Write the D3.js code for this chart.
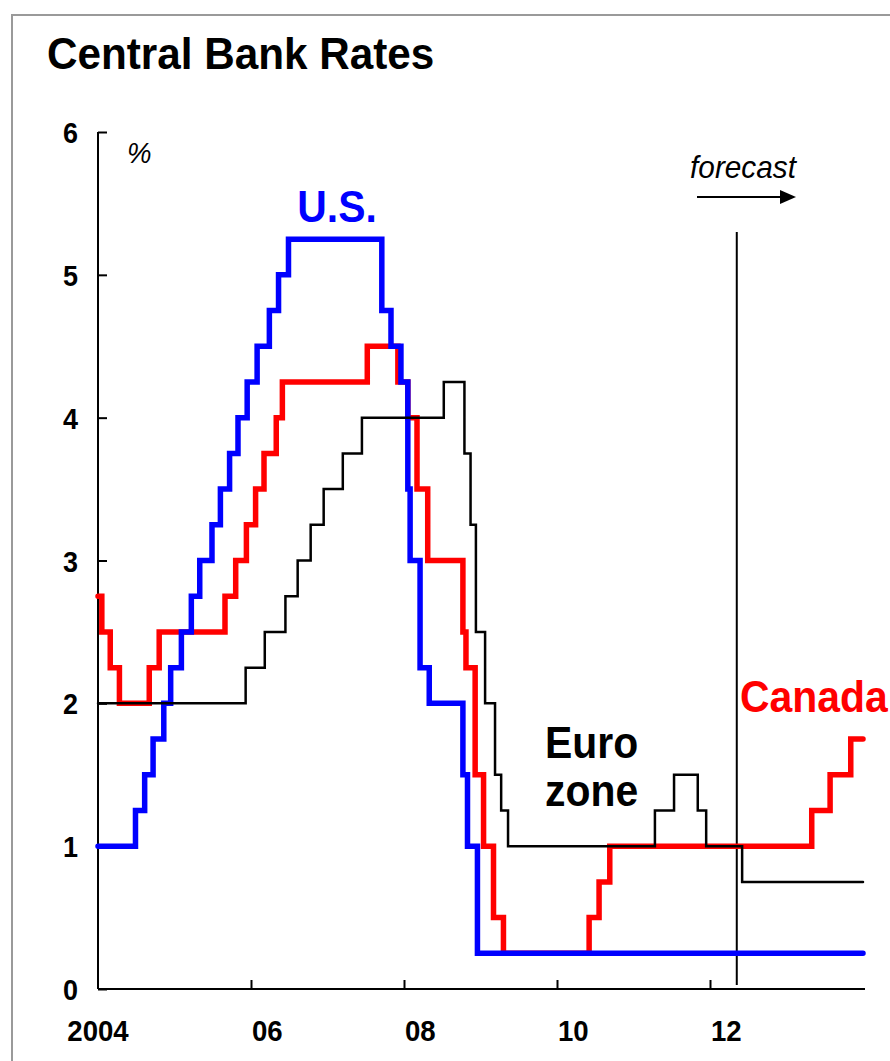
<!DOCTYPE html>
<html><head><meta charset="utf-8">
<script src="https://cdn.jsdelivr.net/npm/d3@7"></script>
<style>
body{margin:0;background:#fff}
svg{display:block}
text{font-family:"Liberation Sans",Arial,Helvetica,sans-serif}
</style>
</head><body>
<svg id="chart" width="890" height="1061"></svg>
<script>
// ---------- data ----------
const tickYears = [2004, 2006, 2008, 2010, 2012];
const tickLabels = ["2004", "06", "08", "10", "12"];
const yTicks = [0, 1, 2, 3, 4, 5, 6];

const usDates = [2004.00,2004.49,2004.61,2004.72,2004.86,2004.95,2005.09,2005.22,2005.33,2005.49,2005.60,2005.72,2005.83,2005.95,2006.08,2006.24,2006.36,2006.49,2007.71,2007.83,2007.96,2008.05,2008.08,2008.21,2008.33,2008.77,2008.83,2008.96,2014.00];
const usRates = [1.00,1.25,1.50,1.75,2.00,2.25,2.50,2.75,3.00,3.25,3.50,3.75,4.00,4.25,4.50,4.75,5.00,5.25,4.75,4.50,4.25,3.50,3.00,2.25,2.00,1.50,1.00,0.25,0.25];

const caDates = [2004.00,2004.05,2004.16,2004.28,2004.67,2004.80,2005.66,2005.80,2005.94,2006.06,2006.17,2006.33,2006.41,2007.52,2007.92,2008.05,2008.17,2008.31,2008.77,2008.81,2008.93,2009.04,2009.17,2009.30,2010.42,2010.55,2010.69,2013.33,2013.57,2013.84,2014.00];
const caRates = [2.75,2.50,2.25,2.00,2.25,2.50,2.75,3.00,3.25,3.50,3.75,4.00,4.25,4.50,4.25,4.00,3.50,3.00,2.50,2.25,1.50,1.00,0.50,0.25,0.50,0.75,1.00,1.25,1.50,1.75,1.75];

const euDates = [2004.00,2005.93,2006.18,2006.45,2006.61,2006.78,2006.95,2007.20,2007.45,2008.52,2008.79,2008.87,2008.94,2009.06,2009.19,2009.27,2009.36,2011.28,2011.53,2011.84,2011.95,2012.42,2014.00];
const euRates = [2.00,2.25,2.50,2.75,3.00,3.25,3.50,3.75,4.00,4.25,3.75,3.25,2.50,2.00,1.50,1.25,1.00,1.25,1.50,1.25,1.00,0.75,0.75];

const forecastStart = 2012.35;

// ---------- layout ----------
const svg = d3.select("#chart");
const x = d3.scaleLinear().domain([2004, 2014]).range([98, 863]);
const y = d3.scaleLinear().domain([0, 6]).range([989, 132]);

// text helper with slight horizontal condensing
function label(parent, tx, ty, str, opts) {
  const o = Object.assign({size: 26, weight: "normal", style: "normal", fill: "#000", anchor: "start", sx: 0.94}, opts);
  return parent.append("text")
    .attr("transform", `translate(${tx},${ty}) scale(${o.sx},1)`)
    .attr("font-size", o.size).attr("font-weight", o.weight).attr("font-style", o.style)
    .attr("fill", o.fill).attr("text-anchor", o.anchor).text(str);
}

// frame
svg.append("rect").attr("x", 12).attr("y", 15).attr("width", 900).attr("height", 1100)
  .attr("fill", "none").attr("stroke", "#9a9a9a").attr("stroke-width", 2);

// title
label(svg, 47, 69, "Central Bank Rates", {size: 44, weight: "bold", sx: 0.96});

// y axis
const yAxis = d3.axisRight(y).tickValues(yTicks).tickSize(9).tickFormat("");
const gy = svg.append("g").attr("transform", "translate(98,0)").call(yAxis);
gy.select(".domain").attr("stroke", "#000").attr("stroke-width", 2).attr("d", `M0,${y(6)}V${y(0)}`);
gy.selectAll(".tick line").attr("stroke", "#000").attr("stroke-width", 2);

const gyl = svg.append("g");
yTicks.forEach(d => label(gyl, 78, y(d) + 11, String(d), {size: 30, weight: "bold", anchor: "end", sx: 0.9}));

// x axis
const xAxis = d3.axisTop(x).tickValues(tickYears.slice(1)).tickSize(9).tickFormat("");
const gx = svg.append("g").attr("transform", `translate(0,${y(0)})`).call(xAxis);
gx.select(".domain").attr("stroke", "#000").attr("stroke-width", 2).attr("d", `M${x(2004)},0H${x(2014) + 2}`);
gx.selectAll(".tick line").attr("stroke", "#000").attr("stroke-width", 2);

const gxl = svg.append("g");
tickYears.forEach((d, i) => label(gxl, d === 2004 ? x(d) : x(d) + 1, 1041, tickLabels[i],
  {size: 30, weight: "bold", anchor: d === 2004 ? "middle" : "start", sx: 0.92}));

// % unit
label(svg, 127, 163, "%", {size: 30, style: "italic", sx: 0.92});

// forecast divider
svg.append("line").attr("x1", x(forecastStart)).attr("x2", x(forecastStart))
  .attr("y1", 232).attr("y2", 985).attr("stroke", "#000").attr("stroke-width", 2);
label(svg, 743, 178, "forecast", {size: 32, style: "italic", anchor: "middle", sx: 0.93});
svg.append("line").attr("x1", 697).attr("x2", 782).attr("y1", 197).attr("y2", 197)
  .attr("stroke", "#000").attr("stroke-width", 2);
svg.append("path").attr("d", "M780,190L796,197L780,204Z").attr("fill", "#000");

// series
const line = d3.line().x(d => x(d[0])).y(d => y(d[1])).curve(d3.curveStepAfter);
const series = [
  {dates: caDates, rates: caRates, color: "#ff0000", width: 5.5},
  {dates: usDates, rates: usRates, color: "#0000ff", width: 5.5},
  {dates: euDates, rates: euRates, color: "#000000", width: 2.5}
];
svg.append("g").selectAll("path").data(series).join("path")
  .attr("d", s => line(s.dates.map((d, i) => [d, s.rates[i]])))
  .attr("fill", "none").attr("stroke", s => s.color).attr("stroke-width", s => s.width)
  .attr("stroke-linejoin", "miter").attr("stroke-linecap", "round");

// labels
label(svg, 337, 222, "U.S.", {size: 44, weight: "bold", fill: "#0000ff", anchor: "middle", sx: 0.93});
label(svg, 740, 712, "Canada", {size: 44, weight: "bold", fill: "#ff0000", sx: 0.93});
label(svg, 545, 758, "Euro", {size: 44, weight: "bold", sx: 0.93});
label(svg, 545, 806, "zone", {size: 44, weight: "bold", sx: 0.93});
</script>
</body></html>
